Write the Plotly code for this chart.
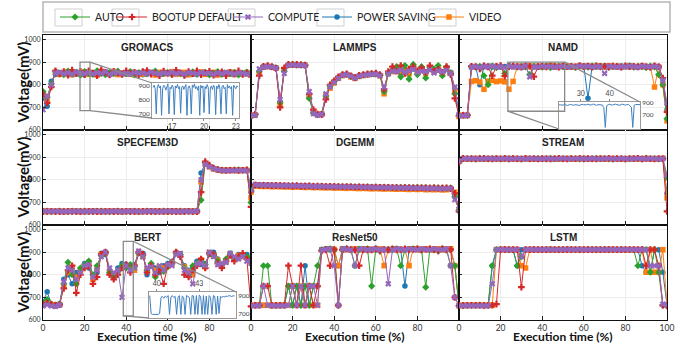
import plotly.graph_objects as go

# ---------------- data ----------------
X_PCT = [0, 2, 4, 6, 8, 10, 12, 14, 16, 18, 20, 22, 24, 26, 28, 30, 32, 34, 36, 38, 40,
         42, 44, 46, 48, 50, 52, 54, 56, 58, 60, 62, 64, 66, 68, 70, 72, 74, 76, 78, 80,
         82, 84, 86, 88, 90, 92, 94, 96, 98, 100]
X_TICKS = [0, 20, 40, 60, 80, 100]
Y_TICKS = [600, 700, 800, 900, 1000]
SERIES = ["AUTO", "BOOTUP DEFAULT", "COMPUTE", "POWER SAVING", "VIDEO"]
PANEL_TITLES = ["GROMACS", "LAMMPS", "NAMD", "SPECFEM3D", "DGEMM", "STREAM", "BERT", "ResNet50", "LSTM"]

GROMACS_AUTO = [770, 745, 805, 858, 852, 845, 860, 848, 855, 842, 858, 850, 846, 862, 850, 845, 855, 849, 860, 847,
                852, 858, 844, 851, 856, 848, 853, 860, 845, 850, 854, 847, 858, 849, 843, 852, 857, 846, 851, 855,
                844, 850, 858, 846, 852, 849, 855, 843, 850, 856, 845]
GROMACS_BOOT = [760, 720, 790, 862, 848, 858, 842, 865, 850, 860, 845, 862, 852, 840, 866, 855, 843, 860, 852, 846,
                862, 849, 855, 842, 858, 863, 847, 852, 840, 861, 850, 846, 864, 853, 841, 858, 849, 862, 845, 853,
                860, 842, 851, 857, 840, 855, 848, 862, 846, 852, 838]
GROMACS_COMP = [690, 750, 800, 852, 855, 849, 853, 847, 856, 851, 849, 855, 848, 853, 850, 857, 846, 852, 855, 849,
                851, 847, 854, 850, 853, 848, 856, 851, 847, 853, 850, 855, 849, 852, 847, 854, 851, 848, 855, 850,
                852, 846, 853, 849, 855, 851, 847, 853, 850, 848, 848]
GROMACS_PS = [740, 705, 815, 845, 850, 853, 846, 851, 848, 855, 844, 850, 853, 847, 852, 849, 845, 854, 848, 851,
              846, 852, 849, 855, 844, 850, 853, 847, 851, 848, 854, 846, 850, 852, 848, 853, 845, 851, 849, 852,
              847, 853, 850, 846, 852, 848, 854, 847, 851, 849, 850]
GROMACS_VID = [755, 730, 795, 855, 846, 852, 858, 844, 853, 849, 857, 846, 852, 843, 856, 850, 848, 858, 845, 853,
               849, 855, 844, 852, 847, 856, 851, 843, 855, 849, 852, 858, 846, 850, 855, 844, 853, 849, 857, 846,
               851, 855, 843, 852, 849, 856, 845, 852, 848, 854, 842]

LAMMPS_AUTO = [665, 668, 860, 880, 882, 879, 875, 720, 860, 888, 890, 887, 889, 886, 740, 675, 668, 672, 750, 795,
               815, 832, 843, 846, 836, 830, 839, 843, 846, 848, 848, 842, 770, 850, 865, 880, 835, 885, 825, 890,
               845, 880, 830, 875, 870, 885, 840, 878, 850, 760, 665]
LAMMPS_BOOT = [665, 670, 840, 882, 885, 880, 872, 700, 875, 890, 889, 891, 888, 887, 760, 690, 670, 668, 735, 800,
               818, 835, 845, 848, 840, 832, 842, 845, 848, 850, 852, 845, 780, 858, 880, 860, 885, 850, 870, 880,
               862, 875, 855, 885, 860, 870, 855, 880, 845, 740, 662]
LAMMPS_COMP = [662, 665, 870, 878, 880, 878, 874, 735, 850, 886, 888, 886, 887, 885, 770, 672, 666, 669, 760, 792,
               810, 828, 842, 845, 838, 829, 838, 842, 845, 846, 847, 840, 790, 848, 860, 858, 865, 855, 862, 868,
               855, 860, 858, 866, 852, 862, 857, 864, 850, 790, 668]
LAMMPS_PS = [665, 668, 855, 881, 883, 880, 876, 725, 868, 889, 890, 888, 889, 887, 750, 678, 667, 670, 745, 788,
             812, 830, 842, 846, 837, 831, 840, 843, 846, 849, 849, 843, 775, 852, 862, 866, 858, 864, 856, 870,
             850, 866, 858, 868, 860, 864, 852, 868, 855, 780, 665]
LAMMPS_VID = [664, 667, 850, 879, 881, 878, 873, 710, 865, 887, 889, 887, 888, 886, 745, 682, 668, 671, 755, 785,
              808, 829, 841, 844, 835, 828, 837, 841, 844, 847, 846, 840, 760, 850, 858, 872, 852, 866, 848, 874,
              855, 862, 850, 872, 858, 866, 846, 870, 852, 770, 660]

NAMD_AUTO = [665, 666, 664, 880, 878, 882, 840, 800, 883, 876, 881, 850, 880, 884, 878, 882, 879, 845, 883, 880,
             878, 882, 876, 884, 880, 879, 883, 881, 877, 882, 880, 878, 884, 881, 879, 883, 877, 880, 882, 879,
             881, 884, 878, 882, 880, 876, 883, 879, 845, 800, 650]
NAMD_BOOT = [665, 665, 666, 882, 880, 870, 884, 879, 840, 882, 885, 838, 880, 883, 881, 878, 884, 882, 836, 880,
             883, 879, 885, 881, 878, 884, 880, 882, 879, 885, 881, 883, 878, 884, 880, 882, 879, 883, 881, 878,
             884, 880, 882, 879, 883, 881, 877, 884, 880, 830, 680]
NAMD_COMP = [662, 663, 664, 878, 880, 877, 881, 879, 882, 878, 880, 876, 882, 879, 881, 877, 883, 835, 880, 878,
             882, 879, 881, 878, 880, 882, 878, 881, 879, 883, 880, 882, 878, 881, 879, 850, 882, 880, 878, 881,
             879, 883, 880, 878, 882, 880, 879, 881, 878, 820, 720]
NAMD_PS = [665, 665, 665, 879, 881, 800, 880, 883, 879, 882, 878, 881, 884, 880, 882, 879, 883, 881, 879, 882,
           880, 884, 881, 879, 883, 880, 882, 878, 881, 884, 883, 740, 882, 879, 884, 881, 879, 882, 880, 883,
           881, 879, 882, 880, 884, 879, 881, 883, 879, 825, 690]
NAMD_VID = [665, 664, 665, 815, 818, 812, 780, 816, 819, 814, 817, 813, 780, 815, 880, 882, 879, 883, 880, 882,
            878, 881, 884, 879, 882, 880, 883, 879, 881, 884, 880, 882, 878, 883, 881, 879, 884, 880, 882, 878,
            881, 883, 880, 879, 882, 878, 880, 790, 879, 800, 640]

SPEC_AUTO = [660, 661, 659, 660, 662, 660, 659, 661, 660, 660, 661, 659, 660, 660, 661, 660, 659, 660, 661, 660,
             660, 659, 661, 660, 660, 661, 659, 660, 660, 661, 660, 659, 660, 661, 660, 660, 659, 662, 710, 875,
             862, 851, 846, 843, 842, 843, 842, 844, 842, 843, 700]
SPEC_BOOT = [659, 660, 661, 660, 659, 660, 661, 660, 660, 659, 660, 661, 660, 659, 660, 660, 661, 659, 660, 660,
             661, 660, 659, 660, 661, 660, 660, 659, 661, 660, 660, 661, 659, 660, 660, 661, 660, 659, 745, 880,
             865, 852, 845, 842, 841, 842, 843, 841, 842, 844, 680]
SPEC_COMP = [661, 660, 660, 661, 660, 659, 660, 660, 661, 660, 659, 660, 661, 660, 660, 659, 660, 661, 660, 659,
             660, 661, 660, 660, 659, 660, 661, 660, 659, 660, 661, 660, 660, 659, 661, 660, 660, 661, 800, 868,
             858, 849, 844, 841, 840, 841, 840, 842, 841, 840, 775]
SPEC_PS = [660, 660, 661, 659, 660, 661, 660, 660, 659, 661, 660, 660, 659, 661, 660, 661, 660, 660, 659, 661,
           660, 660, 661, 659, 660, 660, 661, 660, 660, 659, 660, 661, 660, 660, 659, 660, 661, 660, 830, 872,
           860, 850, 845, 842, 843, 842, 841, 843, 842, 841, 745]
SPEC_VID = [659, 661, 660, 660, 661, 659, 660, 661, 660, 659, 660, 660, 661, 660, 659, 661, 660, 660, 661, 659,
            660, 661, 660, 659, 660, 661, 660, 661, 660, 660, 659, 660, 661, 659, 660, 661, 660, 660, 790, 870,
            857, 848, 844, 841, 842, 841, 842, 840, 843, 841, 720]

DGEMM_AUTO = [752, 776, 775, 776, 774, 775, 774, 775, 773, 774, 774, 773, 772, 773, 772, 772, 771, 772, 771, 770,
              771, 770, 770, 769, 770, 769, 769, 768, 769, 768, 768, 767, 768, 767, 767, 766, 767, 766, 766, 765,
              766, 765, 765, 764, 765, 764, 764, 763, 764, 725, 665]
DGEMM_BOOT = [748, 777, 776, 775, 775, 774, 775, 774, 774, 773, 773, 774, 772, 772, 773, 771, 772, 771, 770, 771,
              770, 770, 769, 770, 769, 768, 769, 768, 768, 767, 768, 767, 766, 767, 766, 766, 765, 766, 765, 765,
              764, 765, 764, 763, 764, 763, 763, 764, 762, 740, 660]
DGEMM_COMP = [755, 778, 777, 776, 776, 775, 775, 774, 774, 774, 773, 773, 773, 772, 772, 771, 771, 771, 770, 770,
              770, 769, 769, 769, 768, 768, 768, 767, 767, 767, 766, 766, 766, 765, 765, 765, 764, 764, 764, 763,
              763, 763, 762, 762, 762, 761, 761, 761, 762, 712, 670]
DGEMM_PS = [750, 775, 775, 774, 774, 773, 774, 773, 773, 772, 772, 772, 771, 771, 771, 770, 770, 770, 769, 769,
            769, 768, 768, 768, 767, 767, 767, 766, 766, 766, 765, 765, 765, 764, 764, 764, 763, 763, 763, 762,
            762, 762, 761, 761, 761, 760, 760, 760, 761, 735, 662]
DGEMM_VID = [745, 772, 771, 770, 771, 769, 770, 769, 768, 769, 767, 768, 767, 766, 767, 765, 766, 765, 764, 765,
             763, 764, 763, 762, 763, 762, 761, 762, 761, 760, 761, 760, 759, 760, 759, 758, 759, 758, 757, 758,
             757, 758, 756, 757, 756, 757, 755, 756, 758, 745, 668]

STREAM_AUTO = [880, 893, 894, 892, 893, 895, 893, 892, 894, 893, 892, 894, 893, 895, 892, 893, 894, 892, 893, 894,
               893, 892, 895, 893, 894, 892, 893, 894, 893, 892, 894, 893, 892, 895, 893, 894, 892, 893, 893, 894,
               892, 893, 894, 893, 892, 895, 893, 894, 892, 893, 810]
STREAM_BOOT = [878, 895, 893, 894, 892, 894, 895, 893, 892, 894, 893, 895, 892, 894, 893, 892, 895, 893, 894, 892,
               894, 893, 892, 894, 895, 893, 892, 894, 893, 895, 892, 894, 893, 892, 894, 893, 895, 892, 894, 893,
               892, 894, 893, 895, 892, 894, 893, 892, 894, 893, 660]
STREAM_COMP = [882, 894, 893, 893, 894, 892, 893, 894, 893, 892, 894, 893, 893, 892, 894, 893, 892, 894, 893, 893,
               892, 894, 893, 892, 893, 894, 893, 892, 894, 893, 893, 892, 894, 893, 892, 893, 894, 893, 892, 894,
               893, 892, 893, 894, 893, 892, 894, 893, 892, 894, 820]
STREAM_PS = [879, 892, 893, 894, 892, 893, 893, 892, 894, 893, 893, 892, 894, 893, 893, 892, 893, 894, 892, 893,
             894, 893, 892, 893, 894, 892, 893, 893, 892, 894, 893, 892, 893, 894, 893, 892, 893, 892, 894, 893,
             893, 894, 892, 893, 893, 894, 892, 893, 894, 892, 740]
STREAM_VID = [881, 893, 892, 893, 894, 893, 892, 893, 893, 894, 892, 893, 894, 892, 893, 893, 894, 892, 893, 892,
              893, 894, 892, 893, 892, 893, 894, 893, 892, 893, 894, 892, 893, 893, 894, 892, 893, 894, 893, 892,
              893, 893, 894, 892, 893, 894, 893, 892, 893, 895, 720]

BERT_AUTO = [670, 690, 668, 665, 672, 760, 855, 800, 760, 830, 845, 860, 800, 840, 885, 895, 810, 790, 815, 840,
             830, 845, 835, 895, 885, 820, 850, 790, 830, 815, 835, 850, 895, 890, 830, 800, 840, 850, 860, 845,
             895, 885, 860, 845, 870, 890, 870, 875, 890, 880, 860]
BERT_BOOT = [668, 675, 670, 665, 668, 740, 820, 840, 720, 800, 830, 840, 760, 790, 890, 900, 800, 780, 800, 830,
             845, 810, 840, 900, 890, 810, 840, 800, 820, 760, 840, 855, 900, 880, 800, 790, 820, 840, 870, 830,
             895, 890, 850, 830, 860, 885, 860, 880, 895, 870, 660]
BERT_COMP = [662, 668, 662, 660, 666, 770, 830, 820, 780, 810, 840, 845, 790, 820, 880, 900, 830, 810, 820, 700,
             840, 820, 830, 905, 880, 830, 835, 810, 840, 820, 845, 840, 890, 895, 820, 810, 760, 850, 850, 840,
             900, 880, 845, 850, 855, 895, 880, 870, 880, 860, 850]
BERT_PS = [680, 725, 670, 668, 670, 780, 800, 760, 810, 820, 850, 830, 800, 810, 895, 890, 820, 800, 830, 850,
           845, 830, 845, 900, 895, 800, 845, 830, 810, 840, 850, 860, 900, 885, 840, 820, 830, 860, 845, 850,
           890, 900, 870, 840, 865, 895, 875, 890, 885, 890, 870]
BERT_VID = [672, 680, 668, 667, 669, 750, 810, 830, 790, 820, 835, 855, 780, 830, 890, 895, 815, 800, 810, 830,
            835, 840, 820, 895, 880, 825, 840, 820, 835, 830, 840, 848, 895, 890, 835, 815, 800, 845, 865, 835,
            898, 885, 865, 840, 860, 890, 870, 885, 880, 875, 860]

RESNET_AUTO = [665, 665, 666, 840, 840, 665, 664, 665, 665, 750, 665, 750, 665, 750, 665, 750, 840, 910, 912, 915,
               910, 665, 912, 915, 910, 840, 912, 910, 915, 750, 915, 905, 910, 912, 910, 915, 840, 910, 912, 915,
               915, 910, 745, 915, 910, 905, 915, 910, 840, 840, 665]
RESNET_BOOT = [664, 665, 665, 750, 750, 665, 665, 665, 665, 840, 750, 665, 840, 665, 750, 665, 750, 905, 910, 840,
               912, 665, 910, 915, 912, 910, 840, 912, 910, 910, 915, 905, 912, 910, 915, 910, 912, 915, 910, 912,
               915, 910, 912, 915, 912, 905, 915, 910, 912, 700, 662]
RESNET_COMP = [663, 664, 663, 750, 665, 664, 663, 664, 663, 665, 750, 665, 750, 665, 750, 750, 665, 910, 912, 915,
               840, 665, 915, 912, 910, 840, 912, 915, 910, 912, 915, 910, 912, 760, 910, 915, 912, 910, 915, 912,
               910, 915, 912, 910, 915, 912, 910, 915, 840, 700, 664]
RESNET_PS = [665, 665, 665, 665, 665, 665, 665, 665, 665, 750, 665, 750, 665, 840, 665, 750, 750, 912, 915, 910,
             912, 840, 910, 915, 912, 910, 915, 912, 910, 912, 910, 915, 912, 910, 915, 912, 910, 750, 912, 915,
             912, 910, 915, 912, 910, 912, 915, 912, 910, 840, 665]
RESNET_VID = [665, 666, 665, 665, 665, 664, 665, 665, 666, 665, 750, 665, 750, 665, 750, 665, 665, 910, 912, 915,
              912, 840, 915, 910, 912, 915, 910, 912, 915, 910, 912, 915, 840, 910, 912, 915, 910, 912, 840, 915,
              910, 912, 915, 910, 912, 915, 910, 912, 915, 840, 663]

LSTM_AUTO = [665, 665, 664, 665, 665, 666, 665, 665, 840, 911, 911, 912, 911, 911, 840, 880, 911, 911, 912, 911,
             911, 911, 912, 911, 911, 911, 912, 911, 911, 911, 911, 912, 911, 911, 911, 912, 911, 911, 911, 912,
             911, 911, 911, 840, 911, 911, 811, 911, 811, 665, 665]
LSTM_BOOT = [665, 664, 665, 665, 665, 665, 664, 665, 665, 670, 911, 911, 912, 911, 911, 745, 911, 911, 911, 912,
             911, 911, 911, 912, 911, 911, 911, 911, 912, 911, 911, 911, 912, 911, 911, 911, 911, 912, 911, 911,
             911, 912, 911, 911, 911, 840, 911, 911, 840, 665, 662]
LSTM_COMP = [663, 663, 664, 663, 663, 664, 663, 663, 760, 911, 912, 911, 911, 911, 911, 880, 911, 912, 911, 911,
             911, 912, 911, 911, 911, 911, 912, 911, 911, 912, 911, 911, 911, 912, 911, 911, 911, 912, 911, 911,
             912, 911, 911, 911, 911, 911, 840, 840, 840, 670, 665]
LSTM_PS = [665, 665, 665, 665, 665, 665, 665, 665, 840, 911, 911, 911, 911, 912, 840, 911, 911, 911, 911, 911,
           912, 911, 911, 911, 911, 912, 911, 911, 911, 911, 912, 911, 911, 911, 912, 911, 911, 911, 911, 912,
           911, 911, 911, 911, 840, 811, 811, 911, 911, 811, 665]
LSTM_VID = [665, 665, 665, 665, 665, 665, 665, 666, 665, 911, 911, 912, 911, 911, 911, 840, 830, 911, 911, 911,
            911, 911, 912, 911, 911, 911, 911, 912, 911, 911, 911, 912, 911, 911, 911, 911, 912, 911, 911, 911,
            911, 911, 911, 911, 911, 811, 911, 811, 811, 911, 665]

# zoomed insets (POWER SAVING trace, finer sampling)
GROMACS_INSET_X = [15.2, 15.3, 15.4, 15.5, 15.6, 15.7, 15.8, 15.9, 16.0, 16.1,
                   16.2, 16.3, 16.4, 16.5, 16.6, 16.7, 16.8, 16.9, 17.0, 17.1,
                   17.2, 17.3, 17.4, 17.5, 17.6, 17.7, 17.8, 17.9, 18.0, 18.1,
                   18.2, 18.3, 18.4, 18.5, 18.6, 18.7, 18.8, 18.9, 19.0, 19.1,
                   19.2, 19.3, 19.4, 19.5, 19.6, 19.7, 19.8, 19.9, 20.0, 20.1,
                   20.2, 20.3, 20.4, 20.5, 20.6, 20.7, 20.8, 20.9, 21.0, 21.1,
                   21.2, 21.3, 21.4, 21.5, 21.6, 21.7, 21.8, 21.9, 22.0, 22.1,
                   22.2, 22.3, 22.4, 22.5, 22.6, 22.7, 22.8, 22.9, 23.0, 23.1, 23.2]
GROMACS_INSET_Y = [890, 905, 880, 700, 895, 910, 885, 900, 690, 880,
                   905, 895, 870, 900, 915, 700, 890, 880, 905, 890,
                   695, 900, 885, 910, 880, 895, 705, 890, 900, 875,
                   895, 910, 690, 885, 900, 880, 700, 905, 890, 915,
                   880, 895, 870, 900, 690, 905, 885, 900, 710, 895,
                   880, 910, 890, 700, 885, 900, 875, 905, 890, 695,
                   900, 880, 910, 885, 700, 895, 905, 880, 890, 700,
                   910, 885, 900, 880, 895, 690, 905, 890, 880, 900, 895]
NAMD_INSET_X = [22.5, 23, 23.5, 24, 24.5, 25, 25.5, 26, 26.5, 27,
                27.5, 28, 28.5, 29, 29.5, 30, 30.5, 31, 31.5, 32,
                32.5, 33, 33.5, 34, 34.5, 35, 35.5, 36, 36.5, 37,
                37.5, 38, 38.5, 39, 39.5, 40, 40.5, 41, 41.5, 42,
                42.5, 43, 43.5, 44, 44.5, 45, 45.5, 46, 46.5, 47,
                47.5, 48, 48.5, 49, 49.5, 50, 50.5]
NAMD_INSET_Y = [862, 868, 858, 865, 870, 860, 855, 866, 872, 864,
                858, 866, 870, 862, 855, 868, 874, 866, 860, 866,
                875, 868, 860, 870, 878, 865, 858, 868, 872, 864,
                860, 820, 505, 850, 868, 874, 866, 860, 870, 876,
                868, 862, 858, 870, 876, 866, 860, 868, 872, 850,
                830, 505, 860, 870, 866, 874, 868]
BERT_INSET_X = [39.5, 39.6, 39.7, 39.8, 39.9, 40.0, 40.1, 40.2, 40.3, 40.4,
                40.5, 40.6, 40.7, 40.8, 40.9, 41.0, 41.1, 41.2, 41.3, 41.4,
                41.5, 41.6, 41.7, 41.8, 41.9, 42.0, 42.1, 42.2, 42.3, 42.4,
                42.5, 42.6, 42.7, 42.8, 42.9, 43.0, 43.1, 43.2, 43.3, 43.4,
                43.5, 43.6, 43.7, 43.8, 43.9, 44.0, 44.1, 44.2, 44.3, 44.4,
                44.5, 44.6, 44.7, 44.8, 44.9, 45.0, 45.1, 45.2, 45.3, 45.4, 45.5]
BERT_INSET_Y = [900, 700, 690, 690, 695, 690, 690, 700, 880, 890,
                870, 895, 880, 900, 690, 885, 900, 880, 890, 690,
                880, 900, 690, 895, 880, 690, 900, 890, 880, 690,
                900, 895, 690, 900, 690, 905, 890, 690, 900, 690,
                895, 690, 900, 880, 690, 900, 890, 690, 895, 700,
                890, 880, 890, 885, 895, 890, 900, 895, 890, 898, 895]

# zoom windows on the main panels: [x0, x1, y0, y1]
GROMACS_ZOOM = [17.8, 22.6, 686, 900]
NAMD_ZOOM = [23.5, 50.8, 683, 900]
BERT_ZOOM = [38.6, 43.4, 618, 948]

DATA = {
    "GROMACS": [GROMACS_AUTO, GROMACS_BOOT, GROMACS_COMP, GROMACS_PS, GROMACS_VID],
    "LAMMPS": [LAMMPS_AUTO, LAMMPS_BOOT, LAMMPS_COMP, LAMMPS_PS, LAMMPS_VID],
    "NAMD": [NAMD_AUTO, NAMD_BOOT, NAMD_COMP, NAMD_PS, NAMD_VID],
    "SPECFEM3D": [SPEC_AUTO, SPEC_BOOT, SPEC_COMP, SPEC_PS, SPEC_VID],
    "DGEMM": [DGEMM_AUTO, DGEMM_BOOT, DGEMM_COMP, DGEMM_PS, DGEMM_VID],
    "STREAM": [STREAM_AUTO, STREAM_BOOT, STREAM_COMP, STREAM_PS, STREAM_VID],
    "BERT": [BERT_AUTO, BERT_BOOT, BERT_COMP, BERT_PS, BERT_VID],
    "ResNet50": [RESNET_AUTO, RESNET_BOOT, RESNET_COMP, RESNET_PS, RESNET_VID],
    "LSTM": [LSTM_AUTO, LSTM_BOOT, LSTM_COMP, LSTM_PS, LSTM_VID],
}

# ---------------- style ----------------
COLORS = {"AUTO": "#2ca02c", "BOOTUP DEFAULT": "#d62728", "COMPUTE": "#9467bd",
          "POWER SAVING": "#1f77b4", "VIDEO": "#ff7f0e"}
SYMBOLS = {"AUTO": "diamond", "BOOTUP DEFAULT": "cross", "COMPUTE": "x",
           "POWER SAVING": "circle", "VIDEO": "square"}
DRAW_ORDER = ["POWER SAVING", "VIDEO", "AUTO", "BOOTUP DEFAULT", "COMPUTE"]
LEGEND_TEXT_PX = [84, 141, 257, 346, 458]   # left edge of each legend label (layout)
Y_RANGE = [600, 1020]
W, H = 694, 344
ML, MR, MT, MB = 43, 27, 35, 24
PW, PH = W - ML - MR, H - MT - MB
FONT = "Lato"


def px2paper_x(px):
    return (px - ML) / PW


def px2paper_y(py):
    return (H - MB - py) / PH


fig = go.Figure()
layout = {}

for i, name in enumerate(PANEL_TITLES):
    r, c = divmod(i, 3)
    suf = "" if i == 0 else str(i + 1)
    for s in DRAW_ORDER:
        k = SERIES.index(s)
        fig.add_trace(go.Scatter(
            x=X_PCT, y=DATA[name][k], mode="lines+markers", name=s,
            line=dict(color=COLORS[s], width=1),
            marker=dict(symbol=SYMBOLS[s], size=5.5, color=COLORS[s], line=dict(width=0)),
            xaxis="x" + suf, yaxis="y" + suf, showlegend=(i == 0),
            legend="legend" + ("" if k == 0 else str(k + 1)), legendgroup=s))
    layout["xaxis" + suf] = dict(
        domain=[c / 3, (c + 1) / 3], range=[0, 100], anchor="y" + suf,
        tickvals=X_TICKS if c == 2 else X_TICKS[:-1], showticklabels=(r == 2),
        ticks="inside", ticklen=4, tickcolor="#222", showline=True, linecolor="#111",
        linewidth=1, mirror=True, showgrid=True, gridcolor="#ededed", zeroline=False,
        tickfont=dict(size=8.5, color="#333", family=FONT))
    layout["yaxis" + suf] = dict(
        domain=[(2 - r) / 3, (3 - r) / 3], range=Y_RANGE, anchor="x" + suf,
        tickvals=Y_TICKS, showticklabels=(c == 0),
        ticks="inside", ticklen=3, tickcolor="#222", showline=True, linecolor="#111",
        linewidth=1, mirror=True, showgrid=True, gridcolor="#ededed", zeroline=False,
        tickfont=dict(size=7, color="#333", family=FONT))

# ---------------- insets ----------------
INSETS = [
    dict(panel=0, x=GROMACS_INSET_X, y=GROMACS_INSET_Y, zoom=GROMACS_ZOOM, box=[152, 239, 83, 118],
         xr=[15.1, 23.3], yr=[671, 921], xt=[17, 20, 23], yt=[700, 800, 900], xs="bottom", ys="left",
         links=[("x1", "y1", "l", "t"), ("x1", "y0", "l", "b")]),
    dict(panel=2, x=NAMD_INSET_X, y=NAMD_INSET_Y, zoom=NAMD_ZOOM, box=[559, 640, 102, 129],
         xr=[22.5, 50.5], yr=[480, 910], xt=[30, 40], yt=[700, 900], xs="top", ys="right",
         links=[("x1", "y1", "r", "t"), ("x0", "y0", "l", "b")]),
    dict(panel=6, x=BERT_INSET_X, y=BERT_INSET_Y, zoom=BERT_ZOOM, box=[149, 236, 292, 318],
         xr=[39.45, 45.6], yr=[650, 940], xt=[40, 43], yt=[700, 900], xs="top", ys="right",
         links=[("x1", "y1", "r", "t"), ("x0", "y0", "l", "b")]),
]

shapes = []
for j, ins in enumerate(INSETS):
    n = 10 + j
    bx0, bx1 = px2paper_x(ins["box"][0]), px2paper_x(ins["box"][1])
    by0, by1 = px2paper_y(ins["box"][3]), px2paper_y(ins["box"][2])
    fig.add_trace(go.Scatter(x=ins["x"], y=ins["y"], mode="lines",
                             line=dict(color="#3f7fc0", width=1), showlegend=False,
                             xaxis=f"x{n}", yaxis=f"y{n}"))
    layout[f"xaxis{n}"] = dict(domain=[bx0, bx1], range=ins["xr"], anchor=f"y{n}", side=ins["xs"],
                               tickvals=ins["xt"], ticks="outside", ticklen=2, tickcolor="#888",
                               showline=True, linecolor="#9a9a9a", linewidth=1, mirror=True,
                               showgrid=False, zeroline=False,
                               tickfont=dict(size=7, color="#444", family=FONT))
    layout[f"yaxis{n}"] = dict(domain=[by0, by1], range=ins["yr"], anchor=f"x{n}", side=ins["ys"],
                               tickvals=ins["yt"], ticks="", showline=True, linecolor="#9a9a9a",
                               linewidth=1, mirror=True, showgrid=False, zeroline=False,
                               tickfont=dict(size=6.5, color="#444", family=FONT))
    p = ins["panel"]
    r, c = divmod(p, 3)
    suf = "" if p == 0 else str(p + 1)
    zx0, zx1, zy0, zy1 = ins["zoom"]
    shapes.append(dict(type="rect", xref="x" + suf, yref="y" + suf, x0=zx0, x1=zx1, y0=zy0, y1=zy1,
                       line=dict(color="#8a8a8a", width=1.3), layer="above"))

    def to_paper(xv, yv, r=r, c=c):
        return (c / 3 + (xv / 100) / 3,
                (2 - r) / 3 + (yv - Y_RANGE[0]) / (Y_RANGE[1] - Y_RANGE[0]) / 3)

    for lx, ly, ix, iy in ins["links"]:
        px0, py0 = to_paper(zx1 if lx == "x1" else zx0, zy1 if ly == "y1" else zy0)
        qx = bx0 if ix == "l" else bx1
        qy = by1 if iy == "t" else by0
        shapes.append(dict(type="line", xref="paper", yref="paper", x0=px0, y0=py0, x1=qx, y1=qy,
                           line=dict(color="#8a8a8a", width=1.3), layer="above"))

# legend frame and small frames round each legend symbol
shapes.append(dict(type="rect", xref="paper", yref="paper",
                   x0=px2paper_x(43), x1=px2paper_x(670), y0=px2paper_y(32), y1=px2paper_y(2),
                   line=dict(color="#b5b5b5", width=1.5), fillcolor="rgba(0,0,0,0)"))
for tx in LEGEND_TEXT_PX:
    shapes.append(dict(type="rect", xref="paper", yref="paper",
                       x0=px2paper_x(tx - 29), x1=px2paper_x(tx - 2), y0=px2paper_y(26), y1=px2paper_y(9),
                       line=dict(color="#cfcfcf", width=1), fillcolor="rgba(0,0,0,0)"))

legends = {}
for k, tx in enumerate(LEGEND_TEXT_PX):
    key = "legend" + ("" if k == 0 else str(k + 1))
    legends[key] = dict(orientation="h", x=px2paper_x(tx - 29), y=px2paper_y(17),
                        xanchor="left", yanchor="middle",
                        font=dict(size=10.5, color="#222", family=FONT), bgcolor="rgba(0,0,0,0)",
                        itemwidth=30, tracegroupgap=0)

# ---------------- annotations ----------------
ann = []
for i, name in enumerate(PANEL_TITLES):
    r, c = divmod(i, 3)
    ann.append(dict(text=f"<b>{name}</b>", xref="paper", yref="paper", x=(c + 0.5) / 3,
                    y=(3 - r) / 3 - 5 / PH, xanchor="center", yanchor="top", showarrow=False,
                    font=dict(size=10, color="#222", family="Liberation Sans")))
for r in range(3):
    ann.append(dict(text="<b>Voltage(mV)</b>", xref="paper", yref="paper", x=px2paper_x(22),
                    y=(2.5 - r) / 3, xanchor="center", yanchor="middle", textangle=-90,
                    showarrow=False, font=dict(size=15, color="#111", family=FONT)))
for c in range(3):
    ann.append(dict(text="<b>Execution time (%)</b>", xref="paper", yref="paper", x=(c + 0.5) / 3,
                    y=px2paper_y(336), xanchor="center", yanchor="middle", showarrow=False,
                    font=dict(size=12, color="#111", family=FONT)))

fig.update_layout(
    width=W, height=H,
    margin=dict(l=ML, r=MR, t=MT, b=MB, autoexpand=False),
    paper_bgcolor="white", plot_bgcolor="white",
    shapes=shapes, annotations=ann,
    **legends,
    **layout,
)

fig.write_html("out.html", config={"displayModeBar": False},
               post_script="document.body.style.margin='0px';")
